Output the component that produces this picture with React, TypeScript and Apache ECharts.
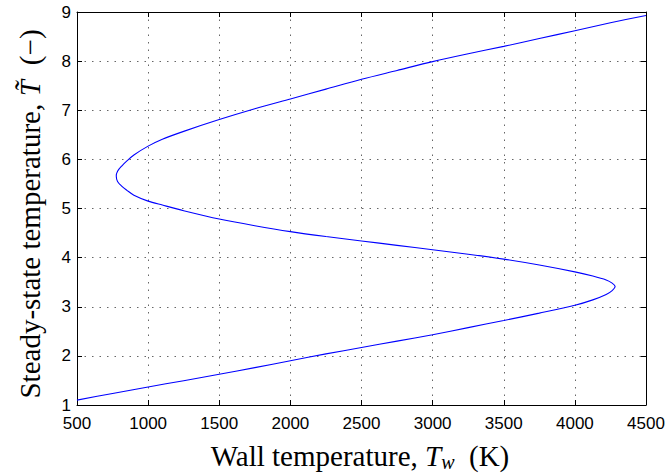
import React, { useEffect, useRef } from "react";
import * as echarts from "echarts";

// Lower branch -> right fold -> middle branch -> left fold -> upper branch
const wallTemp = [
  500, 750, 1000, 1250, 1500, 1750, 2000, 2250, 2500, 2750, 3000, 3250, 3500, 3750, 4000, 4126, 4220, 4262, 4283,
  4262, 4220, 4126, 4000, 3750, 3500, 3250, 3000, 2750, 2500, 2250, 2000, 1750, 1500, 1250, 1100, 1000, 900, 851, 816, 785, 776,
  785, 816, 851, 900, 1000, 1100, 1250, 1500, 1750, 2000, 2250, 2500, 2750, 3000, 3250, 3500, 3750, 4000, 4250, 4500,
];
const steadyT = [
  1.10, 1.235, 1.367, 1.495, 1.625, 1.76, 1.90, 2.04, 2.17, 2.30, 2.43, 2.575, 2.72, 2.87, 3.03, 3.14, 3.25, 3.33, 3.41,
  3.48, 3.545, 3.625, 3.71, 3.85, 3.97, 4.07, 4.16, 4.25, 4.34, 4.43, 4.53, 4.65, 4.785, 4.955, 5.07, 5.15, 5.27, 5.37, 5.45, 5.55, 5.66,
  5.76, 5.87, 5.97, 6.09, 6.27, 6.41, 6.57, 6.81, 7.03, 7.23, 7.43, 7.63, 7.81, 7.99, 8.15, 8.30, 8.46, 8.62, 8.78, 8.93,
];

const xTicks = { min: 500, max: 4500, step: 500 };
const yTicks = { min: 1, max: 9, step: 1 };

const xTitle = "{a|Wall temperature, }{i|T}{s|w}{a|  (K)}";
const yTitle = "{a|Steady-state temperature, }{t|T\u0303}{a|  (\u2212)}";

export default function App() {
  const ref = useRef<HTMLDivElement>(null);
  useEffect(() => {
    if (!ref.current) return;
    const chart = echarts.init(ref.current, undefined, { renderer: "svg" });
    const serif = "Liberation Serif";
    const fs = 29;
    const tickFont = { color: "#000", fontFamily: "Liberation Sans", fontSize: 17 };
    const axisLine = { show: true, onZero: false, lineStyle: { color: "#000", width: 1 } };
    const axisTick = { show: true, inside: true, length: 5, lineStyle: { color: "#000", width: 1 } };
    const grid = { show: true, lineStyle: { color: "#666", width: 1, type: [1.5, 6] as any } };
    const rich = {
      a: { fontFamily: serif, fontSize: fs, lineHeight: 32, color: "#000" },
      i: { fontFamily: serif, fontSize: fs, lineHeight: 32, fontStyle: "italic", color: "#000" },
      t: { fontFamily: serif, fontSize: fs, lineHeight: 32, fontStyle: "italic", color: "#000", width: 17 },
      s: { fontFamily: serif, fontSize: 20, lineHeight: 20, fontStyle: "italic", verticalAlign: "bottom", color: "#000" },
    };
    chart.setOption({
      animation: false,
      backgroundColor: "#fff",
      grid: { left: 77, right: 22, top: 12, bottom: 68, containLabel: false },
      xAxis: [
        {
          type: "value", min: xTicks.min, max: xTicks.max, interval: xTicks.step, position: "bottom",
          axisLine, axisTick, splitLine: grid,
          axisLabel: { ...tickFont, margin: 10, formatter: (v: number) => String(v) },
        },
        {
          type: "value", min: xTicks.min, max: xTicks.max, interval: xTicks.step, position: "top",
          axisLine, axisTick, splitLine: { show: false }, axisLabel: { show: false },
        },
      ],
      yAxis: [
        {
          type: "value", min: yTicks.min, max: yTicks.max, interval: yTicks.step, position: "left",
          axisLine, axisTick, splitLine: grid,
          axisLabel: { ...tickFont, margin: 6, formatter: (v: number) => String(v) },
        },
        {
          type: "value", min: yTicks.min, max: yTicks.max, interval: yTicks.step, position: "right",
          axisLine, axisTick, splitLine: { show: false }, axisLabel: { show: false },
        },
      ],
      graphic: [
        {
          type: "text", x: 360, y: 456,
          style: { text: xTitle, rich, fontFamily: serif, fontSize: fs, fill: "#000", align: "center", verticalAlign: "middle" },
        },
        {
          type: "text", x: 30, y: 214, rotation: Math.PI / 2,
          style: { text: yTitle, rich, fontFamily: serif, fontSize: fs, fill: "#000", align: "center", verticalAlign: "middle" },
        },
      ],
      series: [
        {
          type: "line",
          data: wallTemp.map((x, i) => [x, steadyT[i]]),
          showSymbol: false,
          smooth: 0.3,
          lineStyle: { color: "#0000ff", width: 1.1 },
          xAxisIndex: 0,
          yAxisIndex: 0,
        },
      ],
    });
    return () => chart.dispose();
  }, []);
  return (
    <div
      ref={ref}
      style={{ position: "fixed", left: 0, top: 0, width: 668, height: 473, background: "#fff" }}
    />
  );
}
